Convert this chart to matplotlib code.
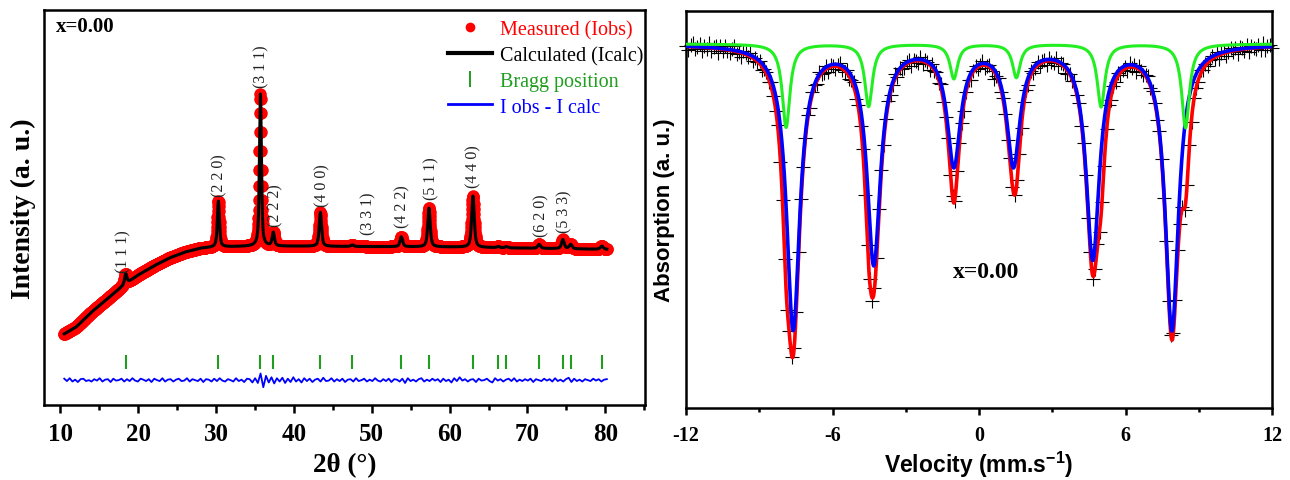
import numpy as np
import matplotlib.pyplot as plt
from matplotlib.lines import Line2D
from matplotlib.ticker import MultipleLocator

plt.rcParams['font.family'] = 'Liberation Serif'
plt.rcParams['axes.unicode_minus'] = False
plt.rcParams['mathtext.fontset'] = 'custom'
plt.rcParams['mathtext.rm'] = 'Liberation Sans'
plt.rcParams['mathtext.bf'] = 'Liberation Sans:bold'

# ---- XRD refinement (x = 0.00) ----
# background control points of the pattern
bg_x = [10.5, 12, 14, 16, 18, 20, 22, 24, 26, 28, 30, 35, 40, 50, 60, 70, 80.2]
bg_y = [18.0, 19.7, 23.5, 26.8, 30.1, 32.9, 35.2, 37.2, 38.7, 39.7, 40.0, 40.2, 40.2, 40.1, 40.0, 39.7, 39.4]

# reflections: position (2theta), height above background, FWHM
bragg_pos = [18.40, 30.30, 35.70, 37.35, 43.40, 47.50, 53.80, 57.35, 63.00,
             66.25, 67.30, 71.50, 74.55, 75.55, 79.55]
peak_height = [2.6, 11.6, 38.5, 3.4, 8.6, 0.4, 2.5, 9.8, 13.0,
               0.3, 0.3, 1.0, 2.3, 1.1, 0.8]
peak_fwhm = [0.35, 0.32, 0.30, 0.35, 0.36, 0.40, 0.40, 0.38, 0.40,
             0.40, 0.40, 0.42, 0.42, 0.42, 0.45]

hkl_labels = ['(1 1 1)', '(2 2 0)', '(3 1 1)', '(2 2 2)', '(4 0 0)', '(3 3 1)',
              '(4 2 2)', '(5 1 1)', '(4 4 0)', '(6 2 0)', '(5 3 3)']
hkl_x = [18.1, 30.4, 35.8, 37.6, 43.6, 49.6, 54.0, 57.6, 63.1, 71.8, 74.7]
hkl_y = [33.7, 52.9, 80.5, 45.3, 50.4, 43.3, 45.1, 52.2, 55.2, 42.8, 43.8]

# Iobs - Icalc (in units of 0.12), 200 steps from 10.5 to 80.2 deg
diff_vals = [
    3, -2, 4, -3, 1, -4, 2, 3, -2, 0,
    -3, 2, -1, 4, -3, 1, 2, -4, 3, -1,
    0, 3, -3, 2, -2, 4, -1, -3, 3, 1,
    -2, 2, -4, 3, 0, -2, 4, -3, 1, 2,
    -3, 1, 3, -2, -1, 4, -3, 2, 0, -2,
    3, -4, 2, 1, -3, 3, -2, 4, -1, -3,
    2, 0, -3, 4, -2, 1, -4, 3, 2, -5,
    4, -6, 14, -15, 9, -5, 6, -7, 4, -3,
    5, -6, 3, -4, 6, -3, 2, -5, 4, -2,
    3, -4, 1, 3, -3, 5, -2, -1, 4, -3,
    2, -2, 3, -4, 1, 2, -3, 4, -2, 0,
    3, -3, 1, -2, 4, -1, -3, 2, -2, 3,
    -4, 2, 1, -3, 3, -6, 4, -2, 1, -3,
    2, 4, -3, 1, -2, 3, -1, 2, -4, 3,
    -2, 1, -5, 4, -2, 6, -1, 2, -3, 1,
    2, -4, 3, -1, 0, 3, -2, -5, 4, -1,
    2, -3, 1, 3, -2, 4, -3, 1, -2, 2,
    -1, 3, -4, 2, 0, -2, 3, -1, 2, -3,
    4, -2, 1, -3, 2, 5, -4, 3, -2, 1,
    -3, 2, 0, -2, 3, -1, 2, -3, 1, 2,
]

# ---- Mossbauer spectrum (x = 0.00) ----
baseline = 91.7
siteA_pos = [-7.61, -4.31, -1.03, 1.41, 4.66, 7.90]
siteA_depth = [71.5, 54.7, 29.7, 29.7, 53.3, 71.6]
siteA_hwhm = 0.33
siteB_pos = [-7.90, -4.52, -1.03, 1.53, 5.00, 8.46]
siteB_depth = [21.0, 15.7, 8.7, 8.4, 15.8, 21.1]
siteB_hwhm = 0.19

# scatter of the counts about the fit, 256 channels (units of 0.25)
count_dev = [
    1, -3, 2, 4, -2, 0, 3, -4, 2, -1, 5, -3, 1, 2, -4, 3,
    -2, 4, -1, -3, 2, 5, -2, 0, -4, 3, 1, -2, 4, -3, 2, -1,
    3, -4, 1, 2, -3, 4, 0, -2, 3, -5, 2, 1, -3, 4, -1, 2,
    -3, 1, 4, -2, 0, 3, -4, 2, 1, -3, 5, -1, -2, 3, -4, 2,
    0, -3, 2, 4, -1, -2, 3, -3, 1, 5, -4, 2, -1, 3, -2, 0,
    4, -3, 1, -2, 3, 2, -4, 1, 3, -2, 0, 4, -3, 2, -1, -3,
    2, 3, -4, 1, 0, -2, 4, -3, 2, 1, -5, 3, -1, 2, -3, 4,
    -2, 0, 3, -4, 2, -1, 3, 1, -3, -9, -2, 2, -4, 1, 3, -2,
    1, 4, -3, 0, 2, -2, -8, -1, 3, -4, 2, 1, -3, 4, -2, 0,
    3, -1, -4, 2, 1, -3, 4, -2, 0, 3, -3, 1, 2, -4, 3, -1,
    -2, 4, -3, 1, 2, -5, -3, 0, -2, 4, -1, 3, -4, 2, 1, -2,
    3, -3, 0, 4, -2, 1, -3, 2, 5, -4, 1, -1, 3, -2, 0, 2,
    -3, 4, -1, 2, -4, 3, 0, -2, 1, 4, -3, 2, -1, -4, 3, 1,
    -2, 3, -4, 0, 2, -1, 4, -3, 2, -2, 1, 3, -4, 2, 0, -3,
    4, -1, 2, -3, 1, 3, -2, 4, -4, 1, 2, -3, 0, 3, -1, 2,
    -4, 3, 1, -2, 4, -3, 2, 0, -1, 3, -2, 4, -3, 1, 2, -1,
]


def xrd_profile(x, eta=0.6):
    y = np.interp(x, bg_x, bg_y)
    for p, h, w in zip(bragg_pos, peak_height, peak_fwhm):
        lor = 1.0 / (1.0 + ((x - p) / (w / 2)) ** 2)
        gau = np.exp(-4 * np.log(2) * ((x - p) / w) ** 2)
        y = y + h * (eta * lor + (1 - eta) * gau)
    return y


def sextet(v, pos, depth, hw):
    v = np.asarray(v)[:, None]
    return np.sum(np.array(depth) * hw ** 2 / ((v - np.array(pos)) ** 2 + hw ** 2), axis=1)


fig = plt.figure(figsize=(12.9, 4.81), dpi=100)
ax1 = fig.add_axes([44 / 1290, 75 / 481, 601 / 1290, 395 / 481])
ax2 = fig.add_axes([686 / 1290, 72 / 481, 586 / 1290, 397 / 481])

red = '#ff0000'
blue = '#0000ff'
bragg_green = '#1f9e1f'

# left: XRD
x_obs = np.arange(10.5, 80.21, 0.03)
ax1.plot(x_obs, xrd_profile(x_obs), 'o', color=red, ms=9, mew=0, zorder=2)
x_calc = np.arange(10.5, 80.21, 0.01)
ax1.plot(x_calc, xrd_profile(x_calc), color='black', lw=2.2, zorder=3)
ax1.vlines(bragg_pos, 9.1, 12.7, color=bragg_green, lw=1.5)
x_diff = np.linspace(10.5, 80.2, len(diff_vals))
ax1.plot(x_diff, 6.3 + 0.12 * np.array(diff_vals), color=blue, lw=1.3)

for lab, hx, hy in zip(hkl_labels, hkl_x, hkl_y):
    ax1.text(hx, hy, lab, rotation=90, ha='center', va='bottom', fontsize=11.5, color='#222222')

ax1.text(0.02, 0.96, 'x=0.00', transform=ax1.transAxes, ha='left', va='center',
         fontsize=15, fontweight='bold')

handles = [Line2D([], [], ls='none', marker='o', color=red, ms=7, mew=0),
           Line2D([], [], color='black', lw=3),
           Line2D([], [], ls='none', marker='|', color=bragg_green, ms=11, mew=1.4),
           Line2D([], [], color=blue, lw=2)]
labels = ['Measured (Iobs)', 'Calculated (Icalc)', 'Bragg position', 'I obs - I calc']
leg = ax1.legend(handles, labels, loc='upper left', bbox_to_anchor=(0.672, 0.975),
                 frameon=False, fontsize=14.5, handlelength=2.2, handletextpad=0.4,
                 labelspacing=0.33, borderpad=0, borderaxespad=0)
for t, c in zip(leg.get_texts(), [red, 'black', bragg_green, blue]):
    t.set_color(c)

ax1.set_xlim(7.9, 85.1)
ax1.set_ylim(0, 100)
ax1.set_yticks([])
ax1.xaxis.set_minor_locator(MultipleLocator(5))
ax1.set_xticks(range(10, 81, 10))
ax1.tick_params(axis='x', which='major', direction='out', length=6, width=1.8, pad=6)
ax1.tick_params(axis='x', which='minor', direction='out', length=3.5, width=1.8)
for lab in ax1.get_xticklabels():
    lab.set_fontsize(18)
    lab.set_fontweight('bold')
ax1.set_xlabel('2θ (°)', fontsize=19.5, fontweight='bold', labelpad=5)
ax1.set_ylabel('Intensity (a. u.)', fontsize=20, fontweight='bold', labelpad=6)
for s in ax1.spines.values():
    s.set_linewidth(1.8)

# right: Mossbauer
v_ch = np.linspace(-12, 12, len(count_dev))
v_fit = np.linspace(-12, 12, 1500)
fitA = baseline - sextet(v_fit, siteA_pos, siteA_depth, siteA_hwhm)
fitB = baseline - sextet(v_fit, siteB_pos, siteB_depth, siteB_hwhm)
fit_total = fitA + fitB - baseline
counts = (baseline - sextet(v_ch, siteA_pos, siteA_depth, siteA_hwhm)
          - sextet(v_ch, siteB_pos, siteB_depth, siteB_hwhm) + 0.25 * np.array(count_dev))

ax2.plot(v_ch, counts, '+', color='black', ms=9.5, mew=0.8, clip_on=False, zorder=1)
ax2.plot(v_fit, fit_total, color=red, lw=2.6, zorder=2)
ax2.plot(v_fit, fitA, color=blue, lw=2.6, zorder=3)
ax2.plot(v_fit, fitB, color='#22ee22', lw=2.2, zorder=4)

ax2.text(0.28, 34.5, 'x=0.00', ha='center', va='center', fontsize=17, fontweight='bold')

ax2.set_xlim(-12, 12)
ax2.set_ylim(0, 100)
ax2.set_yticks([])
ax2.set_xticks([-12, -6, 0, 6, 12])
ax2.xaxis.set_minor_locator(MultipleLocator(3))
ax2.tick_params(axis='x', which='major', direction='out', length=5, width=1.8, pad=7)
ax2.tick_params(axis='x', which='minor', direction='out', length=3, width=1.8)
for lab in ax2.get_xticklabels():
    lab.set_fontsize(14.5)
    lab.set_fontweight('bold')
ax2.set_xlabel(r'Velocity (mm.s$^{\mathbf{-1}}$)', fontsize=16.5, fontweight='bold',
               family='Liberation Sans', labelpad=3)
ax2.set_ylabel('Absorption (a. u.)', fontsize=16, fontweight='bold',
               family='Liberation Sans', labelpad=8)
for s in ax2.spines.values():
    s.set_linewidth(1.8)

fig.savefig('out.png', dpi=100)
